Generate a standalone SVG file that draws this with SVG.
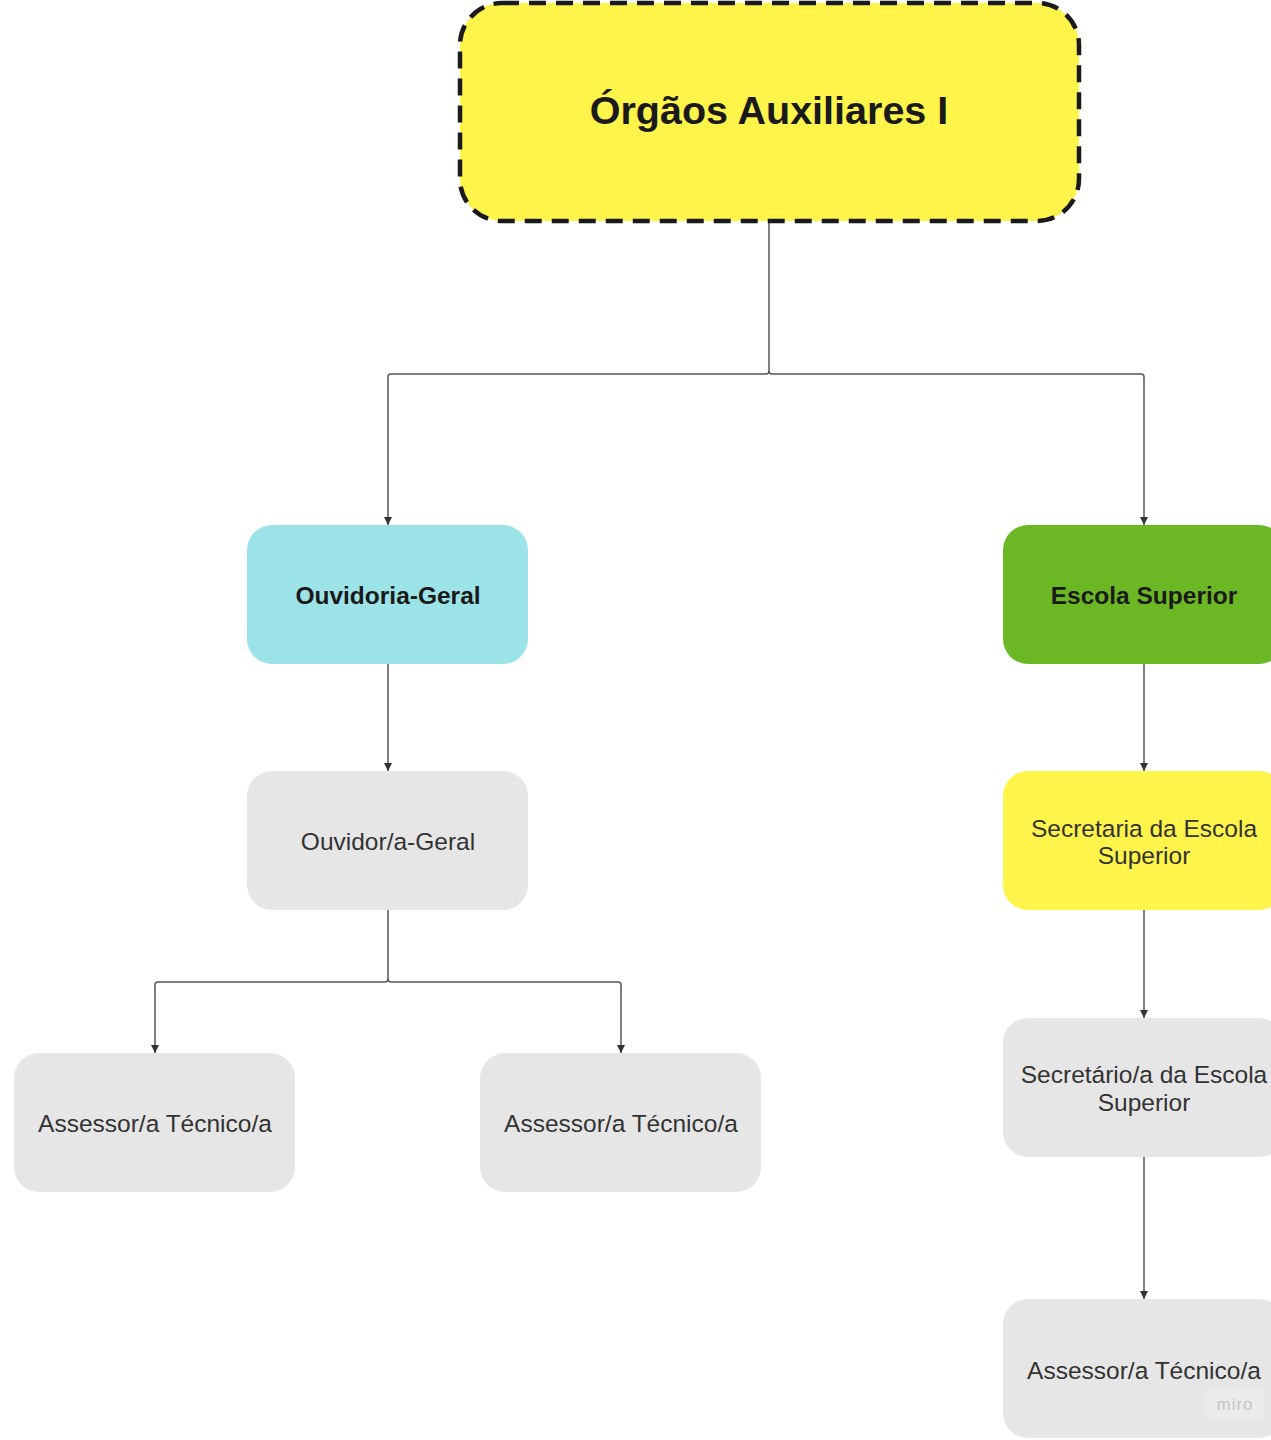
<svg xmlns="http://www.w3.org/2000/svg" width="1271" height="1440" viewBox="0 0 1271 1440">
<style>
.t{font-family:"Liberation Sans",Arial,sans-serif;font-size:24.5px;fill:#333;text-anchor:middle}
.b{font-weight:bold;fill:#1a1a1a}
.c{fill:none;stroke:#555;stroke-width:1.5}
.g{fill:#e6e6e6}
</style>
<defs>
<marker id="a" markerWidth="10" markerHeight="10" refX="9" refY="5" orient="auto" markerUnits="userSpaceOnUse" viewBox="0 0 10 10">
<path d="M1,1 L9,5 L1,9 Z" fill="#333"/>
</marker>
</defs>
<rect width="1271" height="1440" fill="#ffffff"/>
<g id="connectors">
<path class="c" d="M769,222 V371 Q769,374 766,374 H391 Q388,374 388,377 V525" marker-end="url(#a)"/>
<path class="c" d="M769,371 Q769,374 772,374 H1141 Q1144,374 1144,377 V525" marker-end="url(#a)"/>
<path class="c" d="M388,664 V771" marker-end="url(#a)"/>
<path class="c" d="M388,910 V979 Q388,982 385,982 H158 Q155,982 155,985 V1053" marker-end="url(#a)"/>
<path class="c" d="M388,979 Q388,982 391,982 H618 Q621,982 621,985 V1053" marker-end="url(#a)"/>
<path class="c" d="M1144,664 V771" marker-end="url(#a)"/>
<path class="c" d="M1144,910 V1018" marker-end="url(#a)"/>
<path class="c" d="M1144,1157 V1299" marker-end="url(#a)"/>
</g>
<g id="n-top">
<rect x="460" y="3" width="619" height="218" rx="42" fill="#fff44a" stroke="#1a1a1a" stroke-width="4.5" stroke-dasharray="17,10"/>
<text class="t b" x="769" y="124" style="font-size:39.5px">Órgãos Auxiliares I</text>
</g>
<g id="n-ouvidoria">
<rect x="247" y="525" width="281" height="139" rx="25" fill="#9ce3e8"/>
<text class="t b" x="388" y="604">Ouvidoria-Geral</text>
</g>
<g id="n-escola">
<rect x="1003" y="525" width="281" height="139" rx="25" fill="#6cb824"/>
<text class="t b" x="1144" y="604">Escola Superior</text>
</g>
<g id="n-ouvidor">
<rect class="g" x="247" y="771" width="281" height="139" rx="25"/>
<text class="t" x="388" y="850">Ouvidor/a-Geral</text>
</g>
<g id="n-secretaria">
<rect x="1003" y="771" width="281" height="139" rx="25" fill="#fff44a"/>
<text class="t" x="1144" y="837">Secretaria da Escola</text>
<text class="t" x="1144" y="864">Superior</text>
</g>
<g id="n-assessor1">
<rect class="g" x="14" y="1053" width="281" height="139" rx="25"/>
<text class="t" x="155" y="1132">Assessor/a Técnico/a</text>
</g>
<g id="n-assessor2">
<rect class="g" x="480" y="1053" width="281" height="139" rx="25"/>
<text class="t" x="621" y="1132">Assessor/a Técnico/a</text>
</g>
<g id="n-secretario">
<rect class="g" x="1003" y="1018" width="281" height="139" rx="25"/>
<text class="t" x="1144" y="1083">Secretário/a da Escola</text>
<text class="t" x="1144" y="1111">Superior</text>
</g>
<g id="n-assessor3">
<rect class="g" x="1003" y="1299" width="281" height="139" rx="25"/>
<text class="t" x="1144" y="1379">Assessor/a Técnico/a</text>
</g>
<g id="watermark">
<rect x="1205" y="1389" width="60" height="30" fill="#ebebeb"/>
<text x="1235" y="1410" style="font-family:'Liberation Sans',Arial,sans-serif;font-size:17px;fill:#c4c4cc;text-anchor:middle;letter-spacing:1px">miro</text>
</g>
</svg>
